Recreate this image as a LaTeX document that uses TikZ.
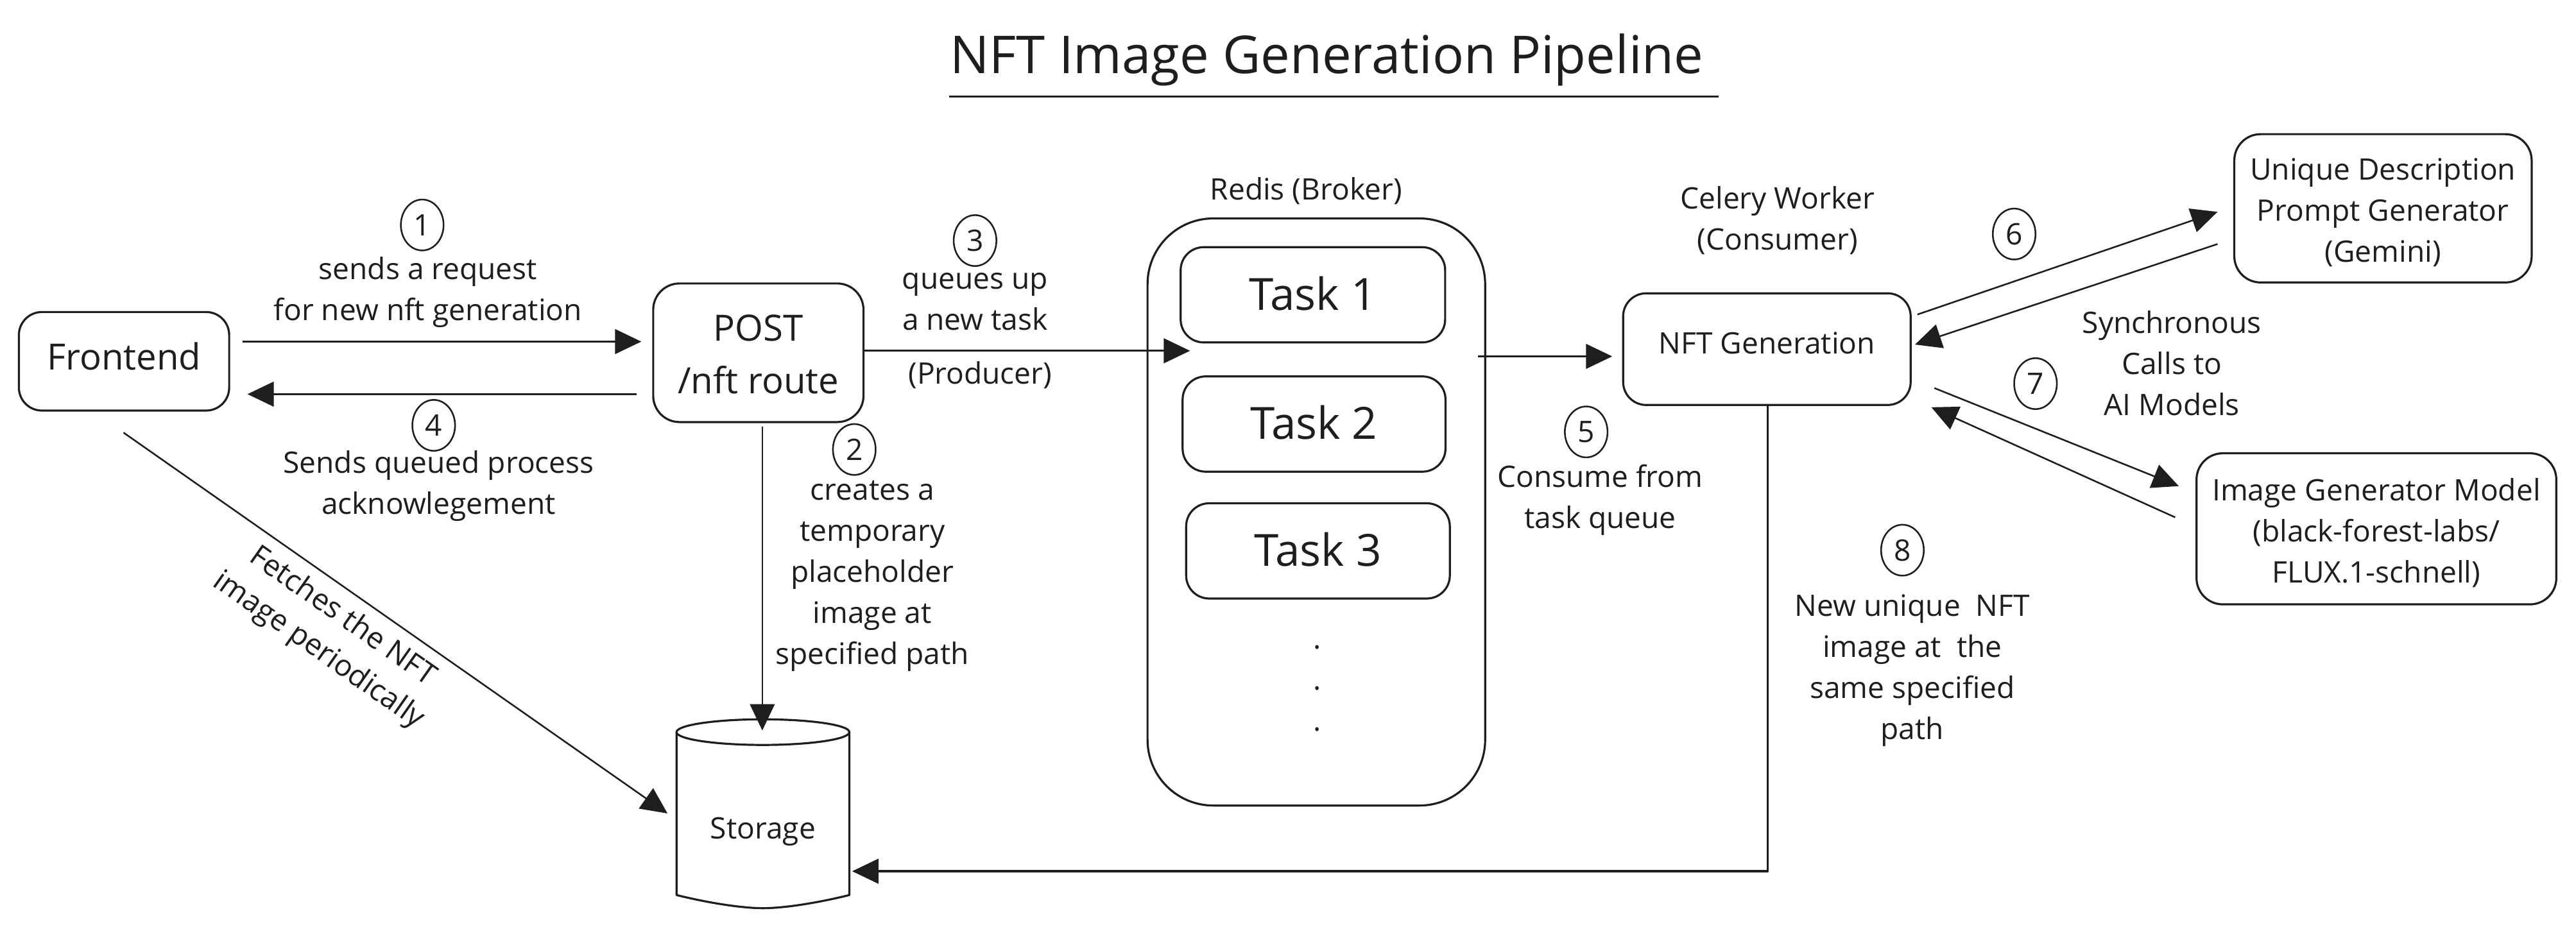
\documentclass[tikz,border=0pt]{standalone}
\usepackage{fontspec}
\setmainfont{Open Sans}
\usetikzlibrary{arrows.meta,shapes.geometric}
\definecolor{ink}{HTML}{1E1E1E}
\newcommand\myT[1]{\rule{0pt}{#1pt}}
\newcommand\myB[1]{\rule[-#1pt]{0pt}{#1pt}}
\begin{document}
\begin{tikzpicture}[x=1pt,y=-1pt,line join=round,
  every node/.style={text=ink},
  lab/.style={font=\fontsize{18}{25}\selectfont, align=center, inner sep=0pt, anchor=north},
  box/.style={draw=ink, line width=1.25pt, rounded corners=14pt, align=center, inner sep=0pt},
  taskbox/.style={box, minimum height=58pt, font=\fontsize{27}{34}\selectfont},
  num/.style={draw=ink, line width=1pt, ellipse, minimum width=26pt, minimum height=31pt, inner sep=0pt, font=\fontsize{18}{25}\selectfont},
  arr/.style={draw=ink, line width=1.25pt, -{Triangle[length=16pt,width=15pt]}},
  thinarr/.style={draw=ink, line width=1pt, -{Triangle[length=16pt,width=15pt]}},
]
\fill[white] (0,0) rectangle (1568,564.45);
\useasboundingbox (0,0) rectangle (1568,564.45);

% title
\node[font=\fontsize{31.8}{38}\selectfont, inner sep=0pt, anchor=base] (title) at (807.6,44.6) {NFT Image Generation Pipeline};
\draw[ink, line width=1.2pt] ([shift={(-0.6,14.2)}]title.base west) -- ([shift={(9,14.2)}]title.base east);

% boxes
\node[box, minimum width=128pt, minimum height=60pt, font=\fontsize{22}{26}\selectfont] (fe) at (75.5,220) {\myT{17}Frontend\myB{6.4}};
\node[box, rounded corners=16pt, minimum width=128pt, minimum height=84.4pt, font=\fontsize{22}{31.8}\selectfont] (post) at (461.6,214.8) {\myT{22.4}POST\\/nft route\myB{4.8}};
\node[box, rounded corners=40pt, minimum width=205.5pt, minimum height=357.5pt] (redis) at (801.25,311.75) {};
\node[taskbox, minimum width=161pt] (t1) at (799.15,179.5) {\myT{20.5}Task 1\myB{2}};
\node[taskbox, minimum width=160pt] (t2) at (799.85,258.2) {\myT{20.5}Task 2\myB{2}};
\node[taskbox, minimum width=160.5pt] (t3) at (802.25,335.45) {\myT{20.5}Task 3\myB{2}};
\node[box, minimum width=175pt, minimum height=68pt, font=\fontsize{18}{25}\selectfont] (nft) at (1075.5,212.6) {\myT{14}NFT Generation\myB{8.6}};
\node[box, rounded corners=16pt, minimum width=181pt, minimum height=90.3pt, font=\fontsize{18}{25}\selectfont] (udp) at (1450.5,126.85) {\myT{20}Unique Description\\Prompt Generator\\(Gemini)\myB{4.4}};
\node[box, rounded corners=16pt, minimum width=219pt, minimum height=92pt, font=\fontsize{18}{25}\selectfont] (img) at (1446.5,322) {\myT{20}Image Generator Model\\(black-forest-labs/\\FLUX.1-schnell)\myB{4.4}};

% storage cylinder
\draw[ink, line width=1.25pt] (464.4,445.8) ellipse [x radius=52.6pt, y radius=7.8pt];
\draw[ink, line width=1.25pt] (411.8,445.8) -- (411.8,545) .. controls (432,550) and (452,553) .. (464.4,553) .. controls (476.8,553) and (496.8,550) .. (517,545) -- (517,445.8);
\node[minimum width=105.2pt, minimum height=115pt, inner sep=0pt, font=\fontsize{18}{25}\selectfont] (st) at (464.4,495.5) {\myT{35}Storage\myB{4.6}};

% labels
\node[lab] (l1) at (260.5,152.5) {\myT{17.5}sends a request\\for new nft generation};
\node[lab] (l4) at (267,270.5) {\myT{17.5}Sends queued process\\acknowlegement};
\node[lab] (l3) at (593.5,158.3) {\myT{17.5}queues up\\a new task};
\node[lab] (lp) at (596.6,215.9) {\myT{17.5}(Producer)};
\node[lab] (l2) at (531,286.9) {\myT{17.5}creates a\\temporary\\placeholder\\image at\\specified path};
\node[lab] (lr) at (795,104.1) {\myT{17.5}Redis (Broker)};
\node[lab] (lc) at (1082,109.5) {\myT{17.5}Celery Worker\\(Consumer)};
\node[lab] (l5) at (974,279) {\myT{17.5}Consume from\\task queue};
\node[lab] (ls) at (1322,185.3) {\myT{17.5}Synchronous\\Calls to\\AI Models};
\node[lab] (l8) at (1164,357.5) {\myT{17.5}New unique\ \ NFT\\image at\ \ the\\same specified\\path};
\node[lab] (dots) at (802,377.5) {\myT{17.5}.\\.\\.};
\node[lab, anchor=center, rotate=-35.1] (lf) at (201,386) {Fetches the NFT\\image periodically};

% step numbers
\node[num] (n1) at (257,137) {1};
\node[num] (n2) at (520,273.7) {2};
\node[num] (n3) at (593.5,146.5) {3};
\node[num] (n4) at (264,259) {4};
\node[num] (n5) at (965.5,263) {5};
\node[num] (n6) at (1226,142.5) {6};
\node[num] (n7) at (1239,233.6) {7};
\node[num] (n8) at (1158,335) {8};

% connectors
\draw[arr] ([shift={(7.5,-12)}]fe.east) -- ([shift={(-6.6,-6.8)}]post.west);
\draw[arr] ([shift={(-9.6,25.2)}]post.west) -- ([shift={(10.5,20)}]fe.east);
\draw[arr] ([shift={(0,-1.2)}]post.east) -- ([shift={(26.5,-98.15)}]redis.west);
\draw[arr] ([shift={(-5,-94.75)}]redis.east) -- ([shift={(-6,4.4)}]nft.west);
\draw[thinarr] ([shift={(2.4,2)}]post.south) -- ([shift={(-0.4,7)}]st.north);
\draw[arr] ([shift={(0.5,0)}]nft.south) |- ([shift={(1.5,35)}]st.east);
\draw[thinarr] ([shift={(3.5,-21.1)}]nft.east) -- ([shift={(-9.6,2.15)}]udp.west);
\draw[thinarr] ([shift={(-9.6,21.75)}]udp.west) -- ([shift={(2,-2.8)}]nft.east);
\draw[thinarr] ([shift={(13.8,23.7)}]nft.east) -- ([shift={(-10.2,-26)}]img.west);
\draw[thinarr] ([shift={(-12.4,-7)}]img.west) -- ([shift={(12,35.4)}]nft.east);
\draw[thinarr] ([shift={(-0.3,12.8)}]fe.south) -- ([shift={(-5.3,-0.2)}]st.west);
\end{tikzpicture}
\end{document}
